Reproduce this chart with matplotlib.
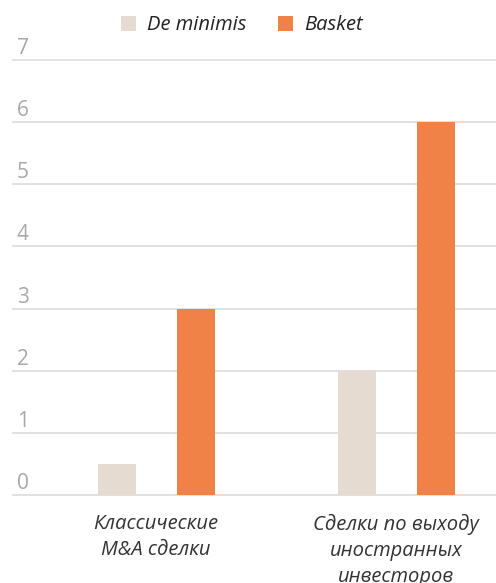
import matplotlib.pyplot as plt
import matplotlib.transforms as mtransforms
import numpy as np

categories = ['Классические\nM&A сделки', 'Сделки по выходу\nиностранных\nинвесторов']
de_minimis = [0.5, 2]
basket = [3, 6]
y_ticks = [0, 1, 2, 3, 4, 5, 6, 7]

plt.rcParams['font.family'] = ['Open Sans', 'DejaVu Sans']

fig = plt.figure(figsize=(4.96, 5.83), dpi=100)
ax = fig.add_axes([13 / 496, 1 - 495 / 583, 483 / 496, 435 / 583])

x = np.arange(len(categories))
w = 0.158
ax.bar(x - 0.1625, de_minimis, w, color='#e6dbd0', label='De minimis', zorder=3)
ax.bar(x + 0.1667, basket, w, color='#f08248', label='Basket', zorder=3)

ax.set_xlim(-0.596, 1.4167)
ax.set_ylim(0, 7)

# gridlines
for t in y_ticks:
    ax.axhline(t, color='#dedede', lw=1.3, zorder=1, clip_on=False)

# tick labels sit above their gridlines
off = mtransforms.offset_copy(ax.get_yaxis_transform(), fig=fig, x=0, y=6, units='dots')
for t in y_ticks:
    ax.text(0.008, t, str(t), transform=off, color='#a8a8a8', fontsize=15,
            ha='left', va='baseline')

for i, c in enumerate(categories):
    ax.text(i, -0.3, c, ha='center', va='top', fontsize=14.5, style='italic',
            color='#333333', linespacing=1.42)

for s in ax.spines.values():
    s.set_visible(False)
ax.set_xticks([])
ax.set_yticks([])

fig.legend(loc='upper center', bbox_to_anchor=(0.487, 1.005), ncol=2, frameon=False,
           prop={'style': 'italic', 'size': 14.5}, handlelength=0.75, handleheight=0.75,
           columnspacing=1.55, handletextpad=0.55, labelcolor='#222222')

fig.savefig('out.png', dpi=100)
